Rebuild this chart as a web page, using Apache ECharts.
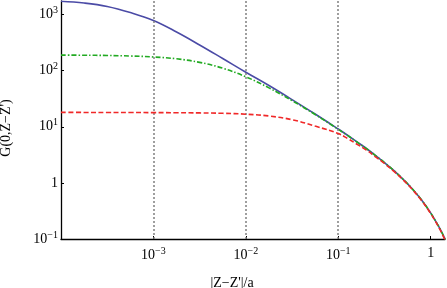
<!DOCTYPE html>
<html><head><meta charset="utf-8">
<script src="https://cdn.jsdelivr.net/npm/echarts@6/dist/echarts.min.js"></script>
<style>html,body{margin:0;padding:0;background:#fff}#c{width:447px;height:288px}</style>
</head><body><div id="c"></div>
<script>
// |Z-Z'|/a sample positions
const zValues = [0.0001, 0.000178, 0.000316, 0.000562, 0.001, 0.00178, 0.00316, 0.00562,
  0.01, 0.0178, 0.0316, 0.0562, 0.1, 0.126, 0.158, 0.2, 0.251, 0.316, 0.398, 0.501,
  0.631, 0.794, 1, 1.12, 1.26, 1.43];
// G(0,Z-Z')
const blueValues = [1730, 1610, 1400, 1090, 785, 490, 288, 165,
  94, 54.5, 30.6, 16.9, 9.13, 7.08, 5.44, 4.15, 3.12, 2.31, 1.67, 1.17,
  0.788, 0.5, 0.292, 0.214, 0.1525, 0.0998];
const greenValues = [190, 189, 187, 183, 176, 163, 141, 111,
  78, 49.5, 29.3, 16.6, 9.05, 7.03, 5.41, 4.13, 3.11, 2.31, 1.67, 1.17,
  0.788, 0.5, 0.292, 0.214, 0.1525, 0.0998];
const redValues = [18.1, 18.05, 18.0, 18.0, 17.9, 17.85, 17.7, 17.4,
  16.8, 15.6, 13.4, 10.3, 7.6, 6.2, 4.95, 3.88, 2.95, 2.22, 1.62, 1.14,
  0.77, 0.489, 0.286, 0.209, 0.148, 0.0966];
const xTickValues = [0.001, 0.01, 0.1, 1];
const yTickValues = [0.1, 1, 10, 100, 1000];
const xGridValues = [0.001, 0.01, 0.1];
const yRange = [0.1, 1750];

const FONT = 'Liberation Serif';
function powLabel(v) {
  const e = Math.round(Math.log10(v));
  if (e === 0) return '{b|1}';
  return '{b|10}{s|' + (e < 0 ? '\u2212' : '') + Math.abs(e) + '}';
}
const rich = {
  b: { fontSize: 14, fontFamily: FONT, color: '#000' },
  s: { fontSize: 10, fontFamily: FONT, color: '#000', padding: [0, 0, 8, 0] }
};
const pts = vals => zValues.map((z, i) => [z, vals[i]]);

const chart = echarts.init(document.getElementById('c'), null, { renderer: 'canvas' });
chart.setOption({
  animation: false,
  backgroundColor: '#fff',
  grid: { left: 61, right: 2, top: 1, bottom: 49, containLabel: false, outerBoundsMode: 'none' },
  xAxis: {
    type: 'log', logBase: 10, min: 0.0001, max: 1.43,
    name: "|Z\u2212Z'|/a", nameLocation: 'middle', nameGap: 37,
    nameTextStyle: { fontSize: 14, fontFamily: FONT, color: '#000', padding: [0, 42, 0, 0] },
    axisLine: { lineStyle: { color: '#000', width: 1.3 } },
    axisTick: { inside: true, length: 3, customValues: xTickValues, lineStyle: { color: '#000' } },
    axisLabel: { customValues: xTickValues, margin: 7, formatter: powLabel, rich: rich },
    splitLine: { show: false }
  },
  yAxis: {
    type: 'log', logBase: 10, min: yRange[0], max: yRange[1],
    name: "G(0,Z\u2212Z')", nameLocation: 'middle', nameGap: 48, nameRotate: 90,
    nameTextStyle: { fontSize: 14, fontFamily: FONT, color: '#000', padding: [0, 16, 0, 0] },
    axisLine: { lineStyle: { color: '#000', width: 1.3 } },
    axisTick: { inside: true, length: 3, customValues: yTickValues, lineStyle: { color: '#000' } },
    axisLabel: { customValues: yTickValues, margin: 3, formatter: powLabel, rich: rich },
    splitLine: { show: false }
  },
  series: [
    {
      type: 'line', data: pts(blueValues), showSymbol: false, smooth: 0.4, z: 3,
      lineStyle: { color: '#4b4ba6', width: 1.6 },
      markLine: {
        silent: true, symbol: 'none', label: { show: false },
        lineStyle: { color: '#808080', type: [2, 2], width: 1.5 },
        data: xGridValues.map(v => [{ coord: [v, yRange[0]] }, { coord: [v, yRange[1]] }])
      }
    },
    {
      type: 'line', data: pts(greenValues), showSymbol: false, smooth: 0.4, z: 4,
      lineStyle: { color: '#22aa22', width: 1.6, type: [5, 2, 1.5, 2] }
    },
    {
      type: 'line', data: pts(redValues), showSymbol: false, smooth: 0.4, z: 5,
      lineStyle: { color: '#f02828', width: 1.6, type: [5, 2.5] }
    }
  ]
});
</script></body></html>
